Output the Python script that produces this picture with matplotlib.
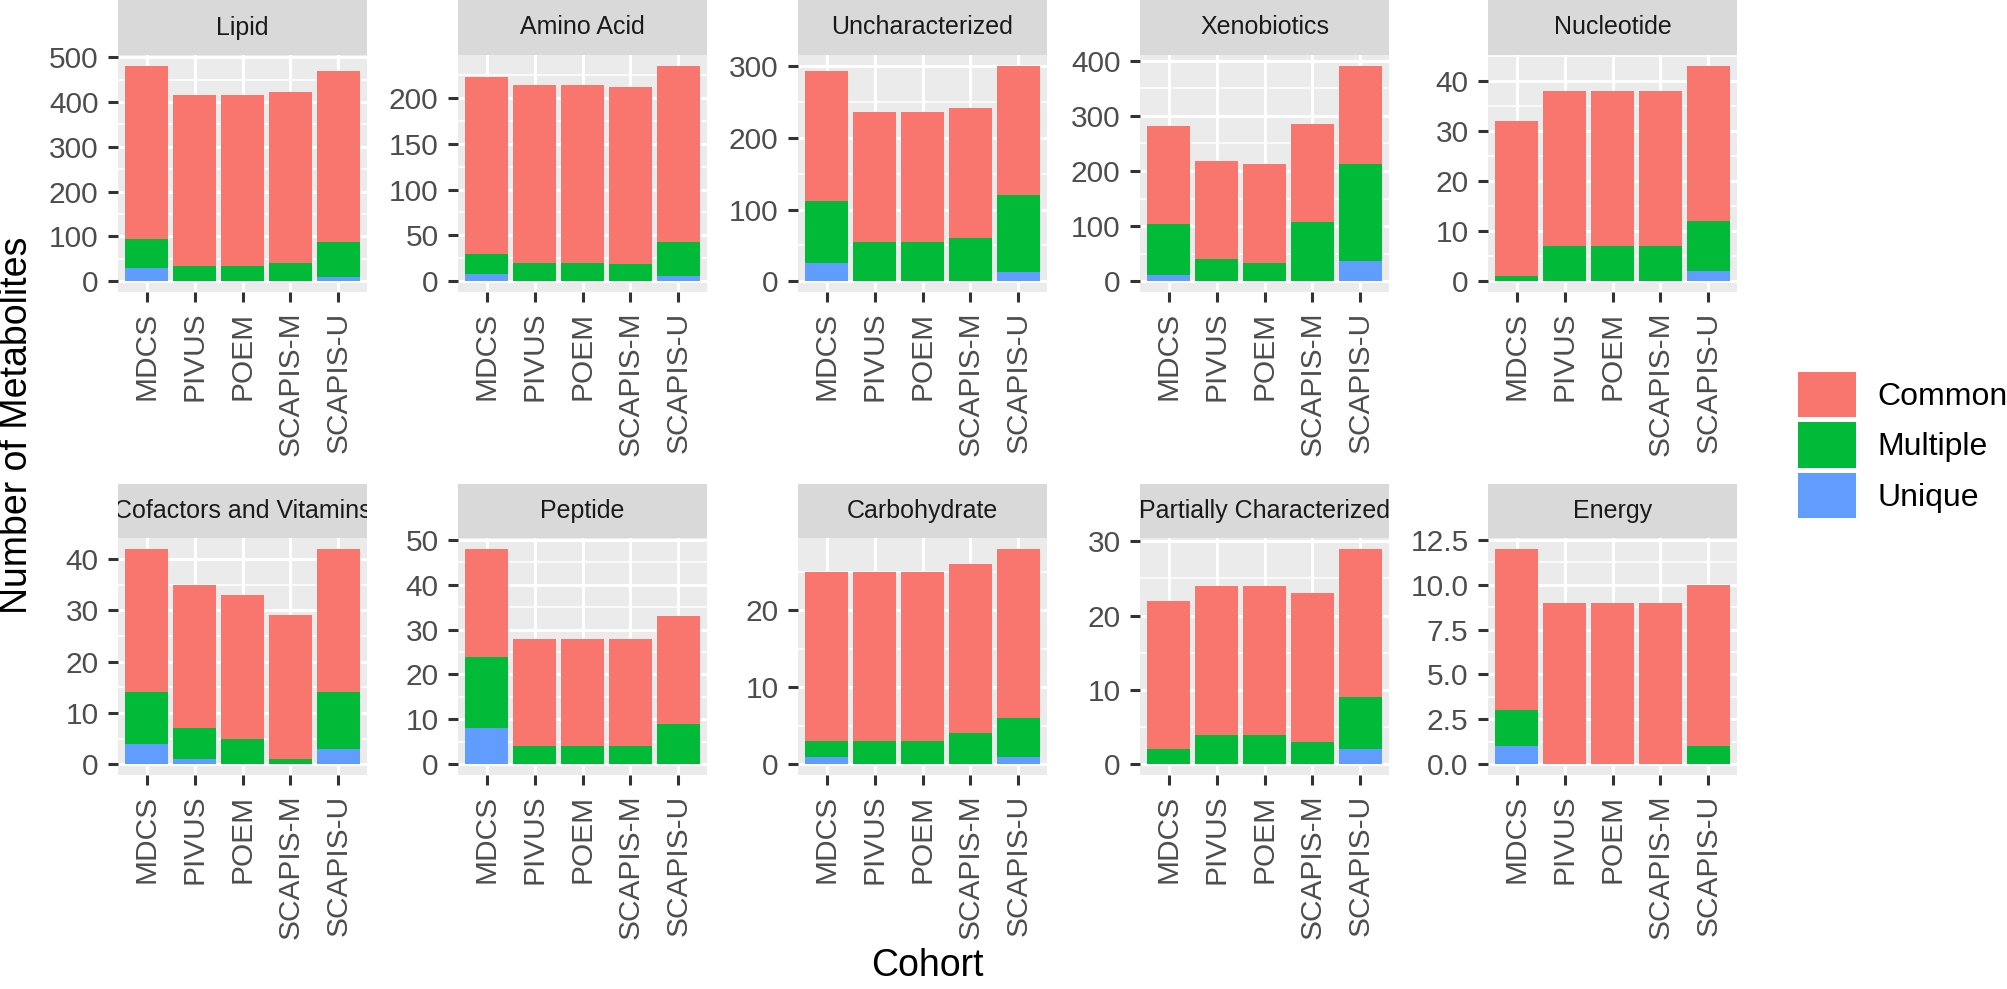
import matplotlib
matplotlib.use("Agg")
import matplotlib.pyplot as plt
from matplotlib.patches import Patch
import numpy as np

plt.rcParams['font.family'] = ['Liberation Sans', 'DejaVu Sans']

cohorts = ["MDCS", "PIVUS", "POEM", "SCAPIS-M", "SCAPIS-U"]
categories = ["Lipid", "Amino Acid", "Uncharacterized", "Xenobiotics", "Nucleotide",
              "Cofactors and Vitamins", "Peptide", "Carbohydrate",
              "Partially Characterized", "Energy"]

# counts per category (rows) and cohort (columns)
unique = [
    [30, 0, 0, 0, 10],
    [8, 0, 0, 0, 6],
    [26, 0, 0, 0, 13],
    [12, 0, 0, 0, 37],
    [0, 0, 0, 0, 2],
    [4, 1, 0, 0, 3],
    [8, 0, 0, 0, 0],
    [1, 0, 0, 0, 1],
    [0, 0, 0, 0, 2],
    [1, 0, 0, 0, 0],
]
multiple = [
    [65, 35, 35, 40, 77],
    [22, 20, 20, 19, 37],
    [86, 55, 55, 61, 107],
    [91, 40, 33, 107, 176],
    [1, 7, 7, 7, 10],
    [10, 6, 5, 1, 11],
    [16, 4, 4, 4, 9],
    [2, 3, 3, 4, 5],
    [2, 4, 4, 3, 7],
    [2, 0, 0, 0, 1],
]
common = [
    [386, 381, 381, 382, 382],
    [193, 194, 194, 193, 192],
    [181, 182, 182, 181, 181],
    [179, 179, 180, 178, 178],
    [31, 31, 31, 31, 31],
    [28, 28, 28, 28, 28],
    [24, 24, 24, 24, 24],
    [22, 22, 22, 22, 22],
    [20, 20, 20, 20, 20],
    [9, 9, 9, 9, 9],
]
y_ticks = [
    [0, 100, 200, 300, 400, 500],
    [0, 50, 100, 150, 200],
    [0, 100, 200, 300],
    [0, 100, 200, 300, 400],
    [0, 10, 20, 30, 40],
    [0, 10, 20, 30, 40],
    [0, 10, 20, 30, 40, 50],
    [0, 10, 20],
    [0, 10, 20, 30],
    [0, 2.5, 5.0, 7.5, 10.0, 12.5],
]
y_ticklabels = [
    ["0", "100", "200", "300", "400", "500"],
    ["0", "50", "100", "150", "200"],
    ["0", "100", "200", "300"],
    ["0", "100", "200", "300", "400"],
    ["0", "10", "20", "30", "40"],
    ["0", "10", "20", "30", "40"],
    ["0", "10", "20", "30", "40", "50"],
    ["0", "10", "20"],
    ["0", "10", "20", "30"],
    ["0.0", "2.5", "5.0", "7.5", "10.0", "12.5"],
]
series_names = ["Common", "Multiple", "Unique"]
colors = {"Common": "#F8766D", "Multiple": "#00BA38", "Unique": "#619CFF"}

W, H = 2007, 989
fig = plt.figure(figsize=(W / 100, H / 100), dpi=100)

panel_lefts = [118, 458, 798, 1140, 1488]
panel_w = 249
rows = [(55, 292, 0), (538, 775, 484)]  # panel top, panel bottom, strip top

for i, cat in enumerate(categories):
    r, c = divmod(i, 5)
    ptop, pbot, stop = rows[r]
    left = panel_lefts[c]
    ax = fig.add_axes([left / W, 1 - pbot / H, panel_w / W, (pbot - ptop) / H])
    sax = fig.add_axes([left / W, 1 - ptop / H, panel_w / W, (ptop - stop) / H])
    sax.set_facecolor("#D9D9D9")
    sax.set_xticks([]); sax.set_yticks([])
    for s in sax.spines.values():
        s.set_visible(False)
    sax.text(0.5, 0.5, cat, ha="center", va="center", fontsize=18, color="#1A1A1A",
             transform=sax.transAxes, clip_on=True)

    x = np.arange(1, 6)
    u = np.array(unique[i]); m = np.array(multiple[i]); cm = np.array(common[i])
    ax.bar(x, u, width=0.9, color=colors["Unique"], linewidth=0)
    ax.bar(x, m, bottom=u, width=0.9, color=colors["Multiple"], linewidth=0)
    ax.bar(x, cm, bottom=u + m, width=0.9, color=colors["Common"], linewidth=0)

    total_max = (u + m + cm).max()
    ax.set_ylim(-0.05 * total_max, 1.05 * total_max)
    ax.set_xlim(0.4, 5.6)
    ax.set_facecolor("#EBEBEB")
    for s in ax.spines.values():
        s.set_visible(False)
    ax.set_axisbelow(True)

    yt = y_ticks[i]
    step = yt[1] - yt[0]
    minors = [v + step / 2 for v in [yt[0] - step] + yt]
    minors = [v for v in minors if -0.05 * total_max < v < 1.05 * total_max]
    ax.set_yticks(yt)
    ax.set_yticklabels(y_ticklabels[i])
    ax.set_yticks(minors, minor=True)
    ax.set_xticks(x)
    ax.set_xticklabels(cohorts, rotation=90)
    ax.tick_params(axis="both", which="major", length=7, width=2.2, color="#333333",
                   labelsize=21.5, labelcolor="#4D4D4D", pad=7)
    ax.tick_params(axis="both", which="minor", length=0)
    ax.grid(which="major", color="white", linewidth=2.2)
    ax.grid(which="minor", axis="y", color="white", linewidth=1.1)

handles = [Patch(facecolor=colors[n], edgecolor="none", label=n) for n in series_names]
fig.legend(handles=handles, loc="center left", bbox_to_anchor=(1798 / W, 1 - 445 / H),
           frameon=False, fontsize=23, handlelength=1.8, handleheight=1.8,
           labelspacing=0.16, handletextpad=0.7, borderaxespad=0, borderpad=0)

fig.text(17 / W, 1 - 425 / H, "Number of Metabolites", rotation=90, ha="center",
         va="center", fontsize=27, color="black")
fig.text(927 / W, 1 - 966 / H, "Cohort", ha="center", va="center", fontsize=27,
         color="black")

fig.savefig("out.png", dpi=100)
